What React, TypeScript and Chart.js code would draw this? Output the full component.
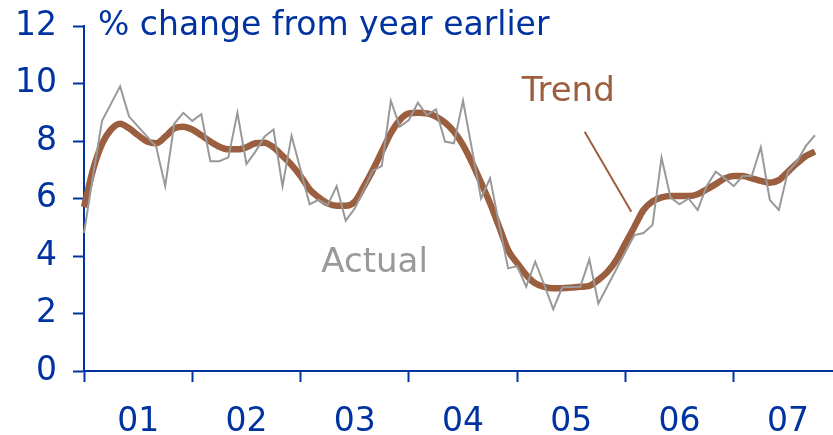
import React, { useEffect, useRef } from 'react';
import { Chart, registerables } from 'chart.js';

Chart.register(...registerables);

// Year labels (2001-2007), monthly observations starting January 2001
const yearLabels = ['01', '02', '03', '04', '05', '06', '07'];
const monthsPerYear = 12;

// % change from year earlier, monthly
const actual = [
  4.8, 6.8, 8.7, 9.3, 9.9, 8.85, 8.5, 8.15, 7.8, 6.43, 8.6, 8.98,
  8.7, 8.93, 7.3, 7.3, 7.43, 8.98, 7.2, 7.63, 8.15, 8.4, 6.43, 8.18,
  7.0, 5.8, 5.95, 5.77, 6.43, 5.23, 5.65, 6.3, 6.97, 7.13, 9.4, 8.5,
  8.73, 9.33, 8.9, 9.1, 7.98, 7.92, 9.4, 7.7, 6.0, 6.7, 5.1, 3.57,
  3.65, 2.93, 3.8, 3.0, 2.15, 2.91, 2.92, 2.93, 3.88, 2.35, 2.95, 3.55,
  4.15, 4.73, 4.8, 5.08, 7.42, 6.03, 5.8, 6.0, 5.6, 6.43, 6.93, 6.7,
  6.43, 6.78, 6.78, 7.78, 5.95, 5.6, 6.93, 7.28, 7.83, 8.2,
];

const trend = [
  5.7, 7.0, 7.9, 8.4, 8.6, 8.44, 8.2, 7.98, 7.92, 8.15, 8.44, 8.5,
  8.4, 8.2, 7.98, 7.8, 7.71, 7.71, 7.78, 7.92, 7.94, 7.78, 7.48, 7.17,
  6.78, 6.32, 6.04, 5.83, 5.75, 5.75, 5.89, 6.41, 6.99, 7.63, 8.27, 8.73,
  8.96, 8.98, 8.96, 8.85, 8.64, 8.32, 7.86, 7.25, 6.55, 5.83, 5.02, 4.2,
  3.75, 3.34, 3.05, 2.93, 2.88, 2.88, 2.9, 2.93, 2.96, 3.17, 3.45, 3.86,
  4.44, 5.02, 5.6, 5.9, 6.04, 6.09, 6.09, 6.09, 6.15, 6.32, 6.5, 6.7,
  6.78, 6.78, 6.7, 6.61, 6.55, 6.64, 6.93, 7.22, 7.48, 7.63,
];

const yTicks = [0, 2, 4, 6, 8, 10, 12];

const BLUE = '#0033a0';
const BROWN = '#9b5f40';
const GREY = '#999999';
const FONT = "'DejaVu Sans', Verdana, sans-serif";

export default function App() {
  const ref = useRef<HTMLCanvasElement>(null);

  useEffect(() => {
    if (!ref.current) return;

    const annotations = {
      id: 'annotations',
      afterDraw(chart: any) {
        const { ctx, scales } = chart;
        const x = scales.x;
        const y = scales.y;
        ctx.save();
        ctx.textBaseline = 'alphabetic';
        ctx.textAlign = 'left';

        ctx.font = `33px ${FONT}`;
        ctx.fillStyle = BLUE;
        ctx.fillText('% change from year earlier', x.getPixelForValue(1.55), y.getPixelForValue(11.69));

        ctx.font = `34px ${FONT}`;
        ctx.fillStyle = BROWN;
        ctx.fillText('Trend', x.getPixelForValue(48.5), y.getPixelForValue(9.39));

        ctx.fillStyle = GREY;
        ctx.fillText('Actual', x.getPixelForValue(26.3), y.getPixelForValue(3.45));

        ctx.strokeStyle = BROWN;
        ctx.lineWidth = 2;
        ctx.beginPath();
        ctx.moveTo(x.getPixelForValue(55.48), y.getPixelForValue(8.32));
        ctx.lineTo(x.getPixelForValue(60.65), y.getPixelForValue(5.54));
        ctx.stroke();
        ctx.restore();
      },
    };

    const chart = new Chart(ref.current, {
      type: 'line',
      data: {
        datasets: [
          {
            label: 'Actual',
            data: actual.map((v, i) => ({ x: i, y: v })),
            borderColor: GREY,
            borderWidth: 2,
            pointRadius: 0,
            tension: 0,
            fill: false,
            clip: false as any,
          },
          {
            label: 'Trend',
            data: trend.map((v, i) => ({ x: i, y: v })),
            borderColor: BROWN,
            borderWidth: 6.5,
            pointRadius: 0,
            cubicInterpolationMode: 'monotone',
            fill: false,
            clip: false as any,
          },
        ],
      },
      options: {
        animation: false,
        responsive: false,
        devicePixelRatio: 1,
        layout: { padding: { top: 26, left: 0, right: 0, bottom: 0 } },
        plugins: {
          legend: { display: false },
          tooltip: { enabled: false },
          title: { display: false },
        },
        scales: {
          x: {
            type: 'linear',
            min: 0,
            max: 83,
            afterBuildTicks: (scale: any) => {
              const t: any[] = [];
              for (let k = 0; k < yearLabels.length * 2; k++) t.push({ value: (k * monthsPerYear) / 2 });
              scale.ticks = t;
            },
            afterFit: (scale: any) => {
              scale.height = 64;
              scale.paddingLeft = 0;
              scale.paddingRight = 0;
            },
            ticks: {
              autoSkip: false,
              maxRotation: 0,
              minRotation: 0,
              padding: 21,
              color: BLUE,
              font: { family: FONT, size: 33 },
              callback: (value: any) => {
                const v = Number(value);
                if (v % monthsPerYear === monthsPerYear / 2) {
                  return yearLabels[(v - monthsPerYear / 2) / monthsPerYear];
                }
                return '';
              },
            },
            grid: {
              display: true,
              drawOnChartArea: false,
              drawTicks: true,
              tickLength: 11,
              tickWidth: 2,
              tickColor: (ctx: any) =>
                ctx.tick && Number(ctx.tick.value) % monthsPerYear === 0 ? BLUE : 'rgba(0,0,0,0)',
            },
            border: { display: true, color: BLUE, width: 2 },
          },
          y: {
            type: 'linear',
            min: 0,
            max: 12,
            afterBuildTicks: (scale: any) => {
              scale.ticks = yTicks.map((v) => ({ value: v }));
            },
            afterFit: (scale: any) => {
              scale.width = 84;
              scale.paddingTop = 0;
              scale.paddingBottom = 0;
            },
            ticks: {
              padding: 16,
              color: BLUE,
              font: { family: FONT, size: 33 },
              callback: (value: any) => String(value),
            },
            grid: {
              display: true,
              drawOnChartArea: false,
              drawTicks: true,
              tickLength: 11,
              tickWidth: 2,
              tickColor: BLUE,
            },
            border: { display: true, color: BLUE, width: 2 },
          },
        },
      },
      plugins: [annotations],
    });

    return () => chart.destroy();
  }, []);

  return (
    <div style={{ position: 'fixed', left: 0, top: 0, width: 833, height: 435, background: '#fff' }}>
      <canvas ref={ref} width={833} height={435} />
    </div>
  );
}
